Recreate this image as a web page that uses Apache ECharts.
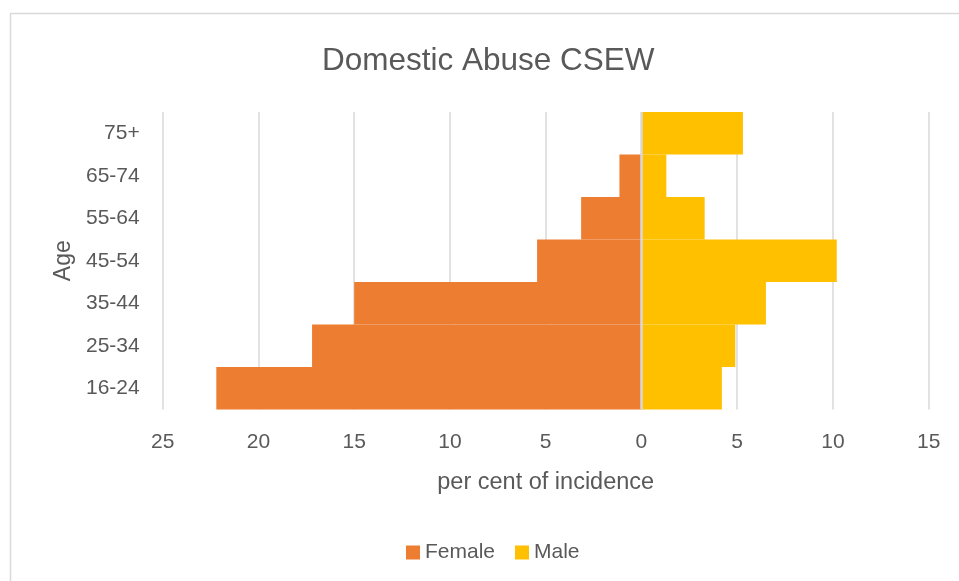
<!DOCTYPE html>
<html>
<head>
<meta charset="utf-8">
<script src="https://cdn.jsdelivr.net/npm/echarts@6/dist/echarts.min.js"></script>
<style>
html,body{margin:0;padding:0;background:#fff;}
#chart{width:959px;height:581px;}
</style>
</head>
<body>
<div id="chart"></div>
<script>
// Data (per cent of incidence); Female plotted to the left as negative values
const ageGroups = ['16-24', '25-34', '35-44', '45-54', '55-64', '65-74', '75+'];
const femaleValues = [-22.2, -17.2, -15.0, -5.45, -3.15, -1.15, 0];
const maleValues = [4.2, 4.9, 6.5, 10.2, 3.3, 1.3, 5.3];
const xTickMin = -25, xTickMax = 15, xTickStep = 5;

const FONT = '"Liberation Sans", Arial, sans-serif';
const TEXT = '#595959';

const chart = echarts.init(document.getElementById('chart'), null, {renderer: 'canvas'});
chart.setOption({
  animation: false,
  backgroundColor: '#fff',
  textStyle: {fontFamily: FONT, color: TEXT},
  graphic: [{
    type: 'rect',
    shape: {x: 10.5, y: 13.5, width: 1000, height: 1000},
    style: {fill: 'none', stroke: '#d9d9d9', lineWidth: 1.5},
    silent: true, z: -10
  }],
  title: {
    text: 'Domestic Abuse CSEW',
    left: 317,
    top: 40,
    textStyle: {fontFamily: FONT, fontSize: 31.5, fontWeight: 'normal', color: TEXT}
  },
  legend: {
    left: 401,
    top: 537,
    itemWidth: 14,
    itemHeight: 14,
    itemGap: 20,
    icon: 'rect',
    textStyle: {fontFamily: FONT, fontSize: 21, color: TEXT},
    data: ['Female', 'Male']
  },
  grid: {left: 162.7, right: 30.3, top: 112, bottom: 171.5, containLabel: false},
  xAxis: {
    type: 'value',
    min: xTickMin,
    max: xTickMax,
    interval: xTickStep,
    name: 'per cent of incidence',
    nameLocation: 'middle',
    nameGap: 61,
    nameTextStyle: {fontFamily: FONT, fontSize: 23.5, color: TEXT},
    axisLine: {show: false},
    axisTick: {show: false},
    axisLabel: {
      margin: 22,
      fontFamily: FONT, fontSize: 21, color: TEXT,
      formatter: v => String(Math.abs(v))
    },
    splitLine: {show: true, lineStyle: {color: '#d9d9d9', width: 1.5}}
  },
  yAxis: {
    type: 'category',
    data: ageGroups,
    name: 'Age',
    nameLocation: 'middle',
    nameGap: 88,
    nameRotate: 90,
    nameTextStyle: {fontFamily: FONT, fontSize: 23, color: TEXT},
    axisLine: {show: false},
    axisTick: {show: false},
    axisLabel: {margin: 23, fontFamily: FONT, fontSize: 21, color: TEXT}
  },
  series: [
    {
      name: 'Female',
      type: 'bar',
      data: femaleValues,
      barCategoryGap: 0,
      barGap: '-100%',
      itemStyle: {color: '#ED7D31'}
    },
    {
      name: 'Male',
      type: 'bar',
      data: maleValues,
      barCategoryGap: 0,
      barGap: '-100%',
      itemStyle: {color: '#FFC000'},
      markLine: {
        silent: true,
        symbol: 'none',
        label: {show: false},
        lineStyle: {color: '#d9d9d9', width: 2.5, type: 'solid'},
        data: [{xAxis: 0}]
      }
    }
  ]
});
</script>
</body>
</html>
